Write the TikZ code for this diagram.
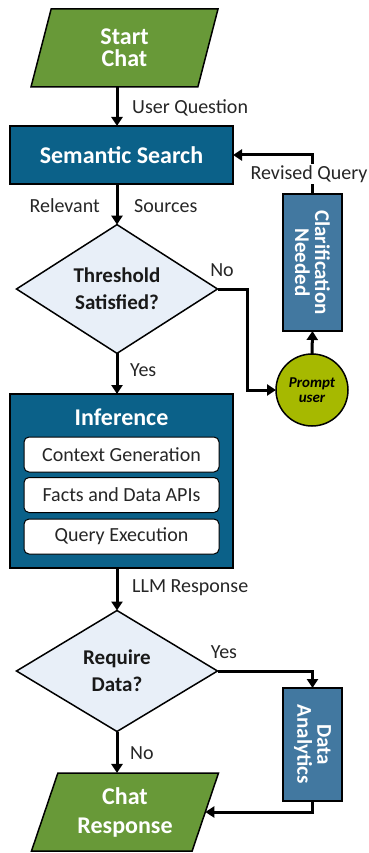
\documentclass[tikz,border=0pt]{standalone}
\usepackage{fontspec}
\setmainfont{Carlito}
\usetikzlibrary{shapes.geometric,arrows.meta}
\definecolor{iogreen}{RGB}{104,153,56}
\definecolor{procteal}{RGB}{11,97,137}
\definecolor{sideblue}{RGB}{66,120,160}
\definecolor{promptolive}{RGB}{166,185,0}
\definecolor{decfill}{RGB}{232,239,248}
\definecolor{labelgray}{RGB}{38,38,38}
\begin{document}
\begin{tikzpicture}[x=1pt,y=-1pt,
  base/.style={draw=black,line width=1.5pt,inner sep=0pt,outer sep=0pt,align=center},
  io/.style={base,trapezium,trapezium left angle=62,trapezium right angle=118,
    trapezium stretches body,minimum height=78pt,minimum width=187pt,
    fill=iogreen,text=white},
  proc/.style={base,rectangle,fill=procteal,text=white,
    font=\fontsize{24}{28}\selectfont\bfseries},
  side/.style={base,rectangle,rotate=-90,fill=sideblue,text=white,
    minimum height=59pt,font=\fontsize{21}{20}\selectfont\bfseries},
  decision/.style={base,diamond,fill=decfill,text=black!90,
    minimum width=201pt,minimum height=121pt,
    font=\fontsize{21}{27}\selectfont\bfseries},
  substep/.style={draw=black,line width=1pt,rounded corners=5pt,fill=white,
    minimum width=195pt,minimum height=35pt,inner sep=0pt,text=labelgray,
    font=\fontsize{20}{24}\selectfont},
  arr/.style={line width=3pt,-{Triangle[length=9pt,width=11pt]}},
  lbl/.style={text=labelgray,inner sep=1pt,font=\fontsize{20}{24}\selectfont}
]
\useasboundingbox (0,0) rectangle (368,853);

% shapes
\node[io,font=\fontsize{24}{22}\selectfont\bfseries] (start) at (124.5,48) {Start\\Chat};
\node[proc,minimum width=223pt,minimum height=58pt] (sem) at (121.5,155) {Semantic Search};
\node[decision] (thr) at (117,289) {Threshold\\Satisfied?};
\node[side,minimum width=137pt] (clar) at (312.5,262.5) {Clarification\\Needed};
\node[base,circle,minimum size=72pt,fill=promptolive,text=black,
  font=\fontsize{15}{15}\selectfont\bfseries\itshape] (pu) at (312,390) {Prompt\\user};
\node[proc,minimum width=223pt,minimum height=174pt] (inf) at (121.5,481) {};
\node[text=white,font=\fontsize{24}{28}\selectfont\bfseries] (inft) at (121.5,417) {Inference};
\node[substep] (c1) at (121.5,454.5) {Context Generation};
\node[substep] (c2) at (121.5,495) {Facts and Data APIs};
\node[substep] (c3) at (121.5,536.5) {Query Execution};
\node[decision] (req) at (117,671) {Require\\Data?};
\node[side,minimum width=113pt] (da) at (312.5,744.5) {Data\\Analytics};
\node[io,font=\fontsize{24}{29}\selectfont\bfseries] (chat) at (125,812) {Chat\\Response};

% connectors
\draw[arr] (start.south -| thr.north) -- (sem.north -| thr.north);
\draw[arr] (sem.south -| thr.north) -- (thr.north);
\draw[arr] (thr.east) -- ++(30,0) |- (pu.west);
\draw[arr] (pu.north) -- (clar.east);
\draw[arr] (clar.west) |- (sem.east);
\draw[arr] (thr.south) -- (inf.north -| thr.south);
\draw[arr] (inf.south -| req.north) -- (req.north);
\draw[arr] (req.east) -| (da.west);
\draw[arr] (req.south) -- (chat.north -| req.south);
\draw[arr] (da.east) |- (chat.east);

% connector labels
\node[lbl,anchor=west] (lq) at (131,108) {User Question};
\node[lbl,anchor=east] (lrel) at (101,206) {Relevant};
\node[lbl,anchor=west] (lsrc) at (133,206) {Sources};
\node[lbl] (lno1) at (222,270) {No};
\node[lbl,anchor=west] (lyes1) at (129,370) {Yes};
\node[lbl,fill=white] (lrev) at (309,174) {Revised Query};
\node[lbl,anchor=west] (lllm) at (131,588) {LLM Response};
\node[lbl] (lyes2) at (224,652) {Yes};
\node[lbl,anchor=west] (lno2) at (129,753) {No};
\end{tikzpicture}
\end{document}
